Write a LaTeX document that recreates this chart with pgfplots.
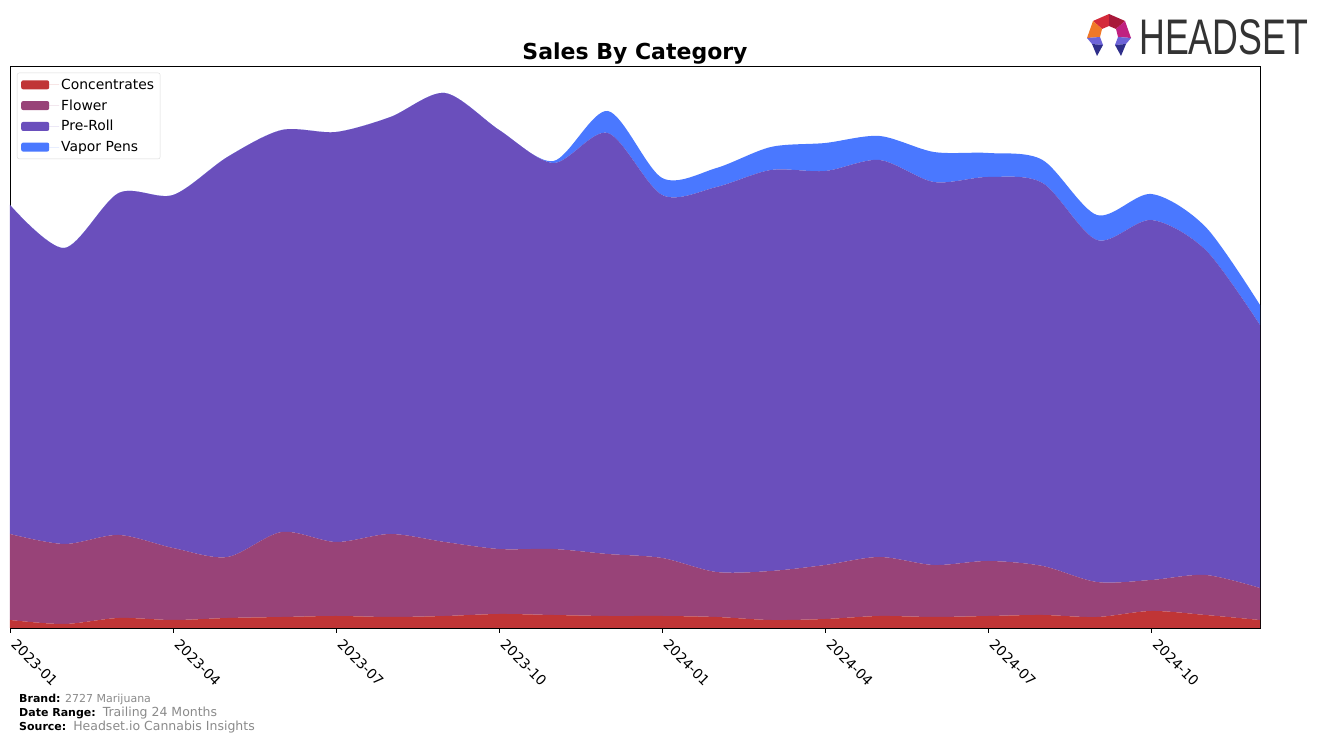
\documentclass[border=0pt]{standalone}
\usepackage{fontspec}
\setmainfont{DejaVu Sans}
\newfontfamily\logofont{Liberation Sans}
\usepackage{pgfplots}
\pgfplotsset{compat=1.18}

\definecolor{conc}{HTML}{C03536}
\definecolor{flower}{HTML}{984378}
\definecolor{preroll}{HTML}{6A4FBC}
\definecolor{vapor}{HTML}{4A78FF}
\definecolor{footgray}{HTML}{8A8A8A}

% month index 0 = 2023-01 ... 23 = 2024-12
\pgfplotstableread{
m v
0 8
1 4
2 10
3 8
4 10
5 11
6 12
7 11
8 12
9 14
10 13
11 12
12 12
13 11
14 8
15 9
16 12
17 11
18 12
19 13
20 11
21 17
22 13
23 8
}\concentrates
\pgfplotstableread{
m v
0 86
1 80
2 83
3 72
4 61
5 85
6 74
7 83
8 74
9 65
10 66
11 62
12 58
13 45
14 49
15 54
16 59
17 52
18 55
19 49
20 35
21 31
22 40
23 32
}\flower
\pgfplotstableread{
m v
0 329
1 296
2 342
3 353
4 400
5 402
6 410
7 417
8 449
9 419
10 386
11 421
12 363
13 385
14 401
15 394
16 397
17 383
18 384
19 383
20 342
21 360
22 325
23 263
}\preroll
\pgfplotstableread{
m v
0 0
1 0
2 0
3 0
4 0
5 0
6 0
7 0
8 0
9 0
10 2
11 22
12 17
13 19
14 23
15 28
16 24
17 30
18 24
19 23
20 25
21 26
22 23
23 20
}\vapor

\begin{document}
\begin{tikzpicture}
\useasboundingbox (0,0) rectangle (1324pt,743pt);
\begin{axis}[
  at={(10pt,115pt)}, anchor=south west,
  width=1250pt, height=562pt, scale only axis,
  xmin=0, xmax=23, ymin=0, ymax=562,
  stack plots=y,
  ytick=\empty,
  xtick={0,3,6,9,12,15,18,21},
  xticklabels={2023-01,2023-04,2023-07,2023-10,2024-01,2024-04,2024-07,2024-10},
  xtick align=outside, xtick pos=bottom,
  major tick length=5pt,
  every tick/.style={black, line width=0.8pt},
  axis line style={line width=0.8pt},
  xticklabel style={rotate=-45, anchor=north west, font=\fontsize{13.9}{16}\selectfont, inner sep=0pt, xshift=9pt, yshift=2pt},
  title={\bfseries Sales By Category},
  title style={font=\fontsize{22}{26}\selectfont, yshift=-8pt},
  legend style={at={(0.0056,0.988)}, anchor=north west, draw=black!15, rounded corners=2pt,
    font=\fontsize{13.9}{16}\selectfont, row sep=4.8pt, inner sep=4pt, cells={anchor=west}},
  legend image code/.code={\fill[#1] (0pt,-4.5pt) rectangle (28pt,4.5pt); \path (0pt,0pt) -- (38pt,0pt);},
]
\addplot[fill=conc, draw=none, smooth, tension=0.5] table[x=m, y=v] {\concentrates} \closedcycle;
\addlegendentry{Concentrates}
\addplot[fill=flower, draw=none, smooth, tension=0.5] table[x=m, y=v] {\flower} \closedcycle;
\addlegendentry{Flower}
\addplot[fill=preroll, draw=none, smooth, tension=0.5] table[x=m, y=v] {\preroll} \closedcycle;
\addlegendentry{Pre-Roll}
\addplot[fill=vapor, draw=none, smooth, tension=0.5] table[x=m, y=v] {\vapor} \closedcycle;
\addlegendentry{Vapor Pens}
\end{axis}

% footer
\node[anchor=west, font=\fontsize{11}{13}\selectfont, inner sep=0pt] at (19pt,44pt)
  {\textbf{Brand:} \color{footgray}2727 Marijuana};
\node[anchor=west, font=\fontsize{11}{13}\selectfont, inner sep=0pt] at (19pt,29.5pt)
  {\textbf{Date Range:}\ \ {\fontsize{12.5}{14}\selectfont\color{footgray}Trailing 24 Months}};
\node[anchor=west, font=\fontsize{11}{13}\selectfont, inner sep=0pt] at (19pt,16pt)
  {\textbf{Source:}\ \ {\fontsize{12.5}{14}\selectfont\color{footgray}Headset.io Cannabis Insights}};

% logo
\definecolor{lgorange}{HTML}{F07828}
\definecolor{lgred}{HTML}{D42A3A}
\definecolor{lgdred}{HTML}{A8183A}
\definecolor{lgmag}{HTML}{C02080}
\definecolor{lglav}{HTML}{6C63D8}
\definecolor{lgnavy}{HTML}{2E2E8A}
\begin{scope}[shift={(1109pt,708pt)}, x=1pt, y=1pt]
  \fill[lgred]    (0,21) -- (-16,14) -- (-7,6) -- (0,9) -- cycle;
  \fill[lgdred]   (0,21) -- (16,14) -- (7,6) -- (0,9) -- cycle;
  \fill[lgmag]    (16,14) -- (22,-3) -- (9,-2) -- (7,6) -- cycle;
  \fill[lgorange] (-16,14) -- (-22,-3) -- (-9,-2) -- (-7,6) -- cycle;
  \fill[lglav]    (22,-3) -- (9,-2) -- (6,-10) -- (17,-9) -- cycle;
  \fill[lgnavy]   (17,-9) -- (6,-10) -- (12,-21) -- cycle;
  \fill[lglav]    (-22,-3) -- (-9,-2) -- (-6,-10) -- (-17,-9) -- cycle;
  \fill[lgnavy]   (-17,-9) -- (-6,-10) -- (-12,-21) -- cycle;
\end{scope}
\node[anchor=west, inner sep=0pt, text=black!80] at (1139pt,706pt)
  {\scalebox{0.715}[1]{\logofont\fontsize{50}{50}\selectfont HEADSET}};
\end{tikzpicture}
\end{document}
